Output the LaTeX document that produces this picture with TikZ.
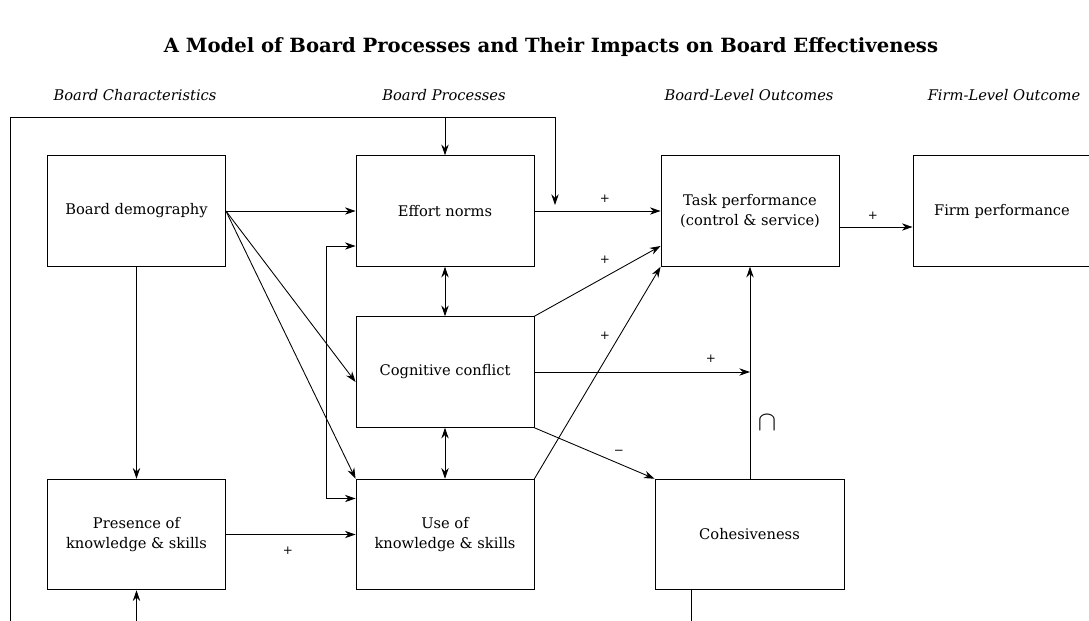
\documentclass[tikz,border=0pt]{standalone}
\usepackage{fontspec}
\setmainfont{DejaVu Serif}
\usetikzlibrary{arrows.meta,calc}
\begin{document}
\begin{tikzpicture}[x=0.75pt,y=-0.75pt,
  line width=0.65pt,
  tip/.tip={Stealth[length=8pt,width=5.5pt]},
  box/.style={draw,rectangle,minimum width=133.5pt,minimum height=83pt,
    align=center,inner sep=0pt,font=\fontsize{11}{15}\selectfont},
  link/.style={-tip},
  dlink/.style={tip-tip},
  sign/.style={font=\fontsize{9}{9}\selectfont,inner sep=0pt},
  head/.style={font=\fontsize{11}{12}\selectfont\itshape,inner sep=0pt}]
\useasboundingbox (0,0) rectangle (1089,621);
\clip (0,0) rectangle (1089,621);

% title and column headings
\node[font=\fontsize{14.7}{16}\selectfont\bfseries] (title) at (551,47)
  {A Model of Board Processes and Their Impacts on Board Effectiveness};
\node[head] (h1) at (135,95) {Board Characteristics};
\node[head] (h2) at (444,95) {Board Processes};
\node[head] (h3) at (749,95) {Board-Level Outcomes};
\node[head] (h4) at (1004,95) {Firm-Level Outcome};

% boxes
\node[box] (bd)   at (136.5,211) {Board demography};
\node[box] (eff)  at (445,211)   {Effort norms};
\node[box] (task) at (750,211)   {Task performance\\(control \& service)};
\node[box] (firm) at (1002,211)  {Firm performance};
\node[box] (cog)  at (445,372)   {Cognitive conflict};
\node[box] (pres) at (136.5,534.5) {Presence of\\knowledge \& skills};
\node[box] (use)  at (445,534.5) {Use of\\knowledge \& skills};
\node[box,minimum width=141.75pt] (coh) at (749.5,534.5) {Cohesiveness};

% feedback frame along the top and left
\coordinate (fbot) at (10,640);
\coordinate (ftl) at (10,117);
\coordinate (ftr) at (555,117);
\coordinate (fdrop) at (555,205);
\draw (fbot) -- (ftl) -- (ftr);
\draw[link] (ftr) -- (fdrop);
\draw[link] (eff.north |- ftl) -- (eff.north);

% links from board demography
\draw[link] (bd.east) -- (eff.west);
\draw[link] (bd.east) -- ($(cog.west)+(0,10)$);
\draw[link] (bd.east) -- (use.north west);
\draw[link] (bd.south) -- (pres.north);
\draw[link] (pres.east) -- (use.west);
\node[sign] (p0) at (288,551) {+};

% links between processes
\draw[dlink] (eff.south) -- (cog.north);
\draw[dlink] (cog.south) -- (use.north);
\draw[dlink] ($(eff.west)+(0,35)$) -- ++(-29,0) |- ($(use.west)+(0,-36)$);

% links to board-level outcomes
\draw[link] (eff.east) -- (task.west);
\node[sign] (p1) at (605,199) {+};
\draw[link] (cog.north east) -- ($(task.west)+(0,35)$);
\node[sign] (p2) at (605,260) {+};
\draw[link] (use.north east) -- (task.south west);
\node[sign] (p3) at (605,336) {+};
\coordinate (mod) at (task.south |- cog.east);
\draw[link] (cog.east) -- (mod);
\node[sign] (p4) at (711,359) {+};
\draw[link] (task.south |- coh.north) -- (task.south);
\node[font=\fontsize{21}{21}\selectfont,inner sep=0pt] (capsym) at (767,423) {$\cap$};
\draw[link] (cog.south east) -- (coh.north west);
\node[sign] (m1) at (619,452) {\textminus};

% link to firm-level outcome
\draw[link] ($(task.east)+(0,16)$) -- ($(firm.west)+(0,16)$);
\node[sign] (p5) at (873,216) {+};

% lines running below
\coordinate (cohdown) at (691,640);
\draw (coh.south -| cohdown) -- (cohdown);
\coordinate (presup) at (136.5,640);
\draw[link] (presup) -- (pres.south);
\end{tikzpicture}
\end{document}
